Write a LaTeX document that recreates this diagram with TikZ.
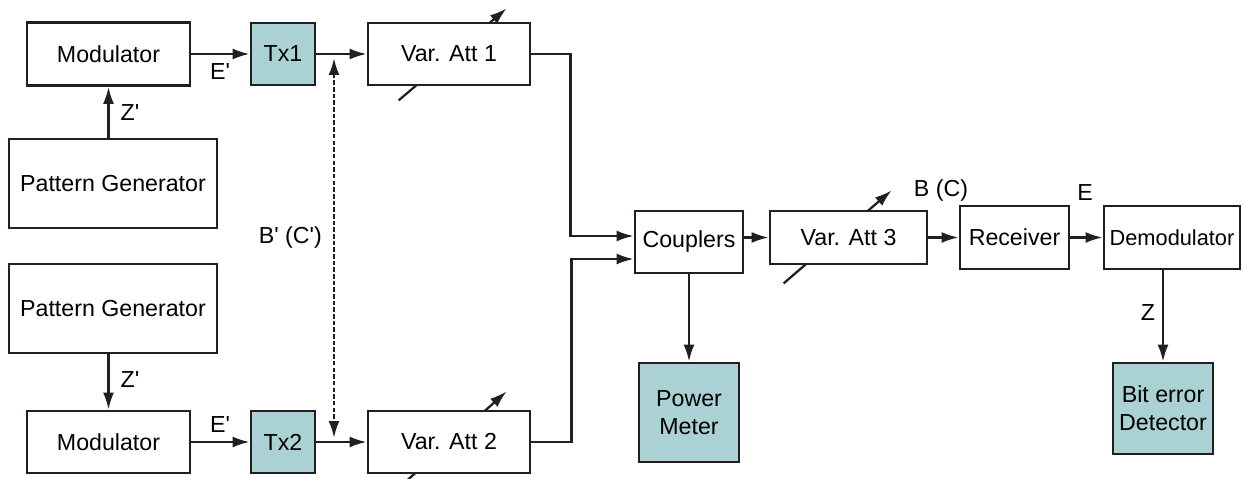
\documentclass[tikz,border=0pt]{standalone}
\usepackage{fontspec}
\setmainfont{Liberation Sans}
\usepackage{tikz}
\usetikzlibrary{arrows.meta,positioning,calc,backgrounds}
\definecolor{teal5}{RGB}{170,209,212}
\definecolor{ink}{RGB}{35,31,32}
\newcommand{\prm}{\textquotesingle}

\begin{document}
\begin{tikzpicture}[
  x=0.02cm,y=-0.02cm,
  font=\fontsize{13.2}{16}\selectfont,
  box/.style={draw=ink,line width=1.6pt,fill=white,align=center,inner sep=1pt},
  tbox/.style={box,fill=teal5},
  arr/.style={-{Latex[length=3.4mm,width=2.2mm]},line width=1.3pt,draw=ink},
  dots/.style={{Latex[length=3.4mm,width=2.2mm]}-{Latex[length=3.4mm,width=2.2mm]},
               line width=1.4pt,draw=ink,dash pattern=on 2.6pt off 1.2pt},
  tune/.style={-{Latex[length=3.4mm,width=2.2mm]},line width=1.3pt,draw=ink}
]
\useasboundingbox (0,0) rectangle (1243,479);
% transmitter branch 1
\node[box,minimum width=3.26cm,minimum height=1.26cm] (mod1) at (108.5,54) {Modulator};
\node[box,minimum width=4.16cm,minimum height=1.78cm] (pg1) at (113,183.5) {Pattern Generator};
\node[tbox,minimum width=1.28cm,minimum height=1.24cm] (tx1) at (283,54) {Tx1};
\node[box,minimum width=3.24cm,minimum height=1.24cm] (att1) at (449,54) {Var. Att 1};
% transmitter branch 2
\node[box,minimum width=4.16cm,minimum height=1.78cm] (pg2) at (113,308.5) {Pattern Generator};
\node[box,minimum width=3.26cm,minimum height=1.24cm] (mod2) at (108.5,442) {Modulator};
\node[tbox,minimum width=1.28cm,minimum height=1.24cm] (tx2) at (283,442) {Tx2};
\node[box,minimum width=3.24cm,minimum height=1.24cm] (att2) at (449,442) {Var. Att 2};
% receiver side
\node[box,minimum width=2.16cm,minimum height=1.24cm] (coup) at (689,242) {Couplers};
\node[box,minimum width=3.14cm,minimum height=1.06cm] (att3) at (848.5,237.5) {Var. Att 3};
\node[box,minimum width=2.18cm,minimum height=1.26cm] (rec) at (1014.5,237.5) {Receiver};
\node[box,minimum width=2.72cm,minimum height=1.26cm,
      font=\fontsize{12.4}{15}\selectfont] (demod) at (1172,237.5) {Demodulator};
\node[tbox,minimum width=2cm,minimum height=1.98cm] (pm) at (689,412.5) {Power\\Meter};
\node[tbox,minimum width=2cm,minimum height=1.82cm] (bed) at (1163,408.5) {Bit error\\Detector};

% variable attenuator marks
\begin{scope}[on background layer]
\draw[tune] ($(att1.south west)+(32,14)$) -- ($(att1.south west)+(140,-78)$);
\draw[tune] ($(att2.south west)+(36,10)$) -- ($(att2.south west)+(140,-83)$);
\draw[tune] ($(att3.south west)+(15,18)$) -- ($(att3.south west)+(123,-75)$);
\end{scope}

\draw[arr] (mod1.south |- pg1.north) -- (mod1.south);
\draw[arr] (mod2.north |- pg2.south) -- (mod2.north);
\draw[arr] (mod1) -- (tx1);
\draw[arr] (tx1) -- (att1);
\draw[arr] (mod2) -- (tx2);
\draw[arr] (tx2) -- (att2);
\draw[arr] (att1.east) -- ++(39,0) |- ($(coup.west)+(0,-6)$);
\draw[arr] (att2.east) -- ++(40,0) |- ($(coup.west)+(0,17)$);
\draw[arr] (coup.east |- att3.west) -- (att3.west);
\draw[arr] (att3) -- (rec);
\draw[arr] (rec) -- (demod);
\draw[arr] (coup.south) -- (pm.north);
\draw[arr] (bed.north |- demod.south) -- (bed.north);

\coordinate (bup) at (334,58);
\coordinate (bdn) at (334,438);
\draw[dots] (bup) -- (bdn);

% labels
\node (e1) at (220,72) {E\prm};
\node (e2) at (220,425) {E\prm};
\node (z1) at (130,113) {Z\prm};
\node (z2) at (130,380) {Z\prm};
\node[anchor=east] (bcp) at (328,237) {B\prm{} (C\prm)};
\node (bc) at (941,190) {B (C)};
\node (e) at (1085,193) {E};
\node (z) at (1148,313) {Z};
\end{tikzpicture}
\end{document}
